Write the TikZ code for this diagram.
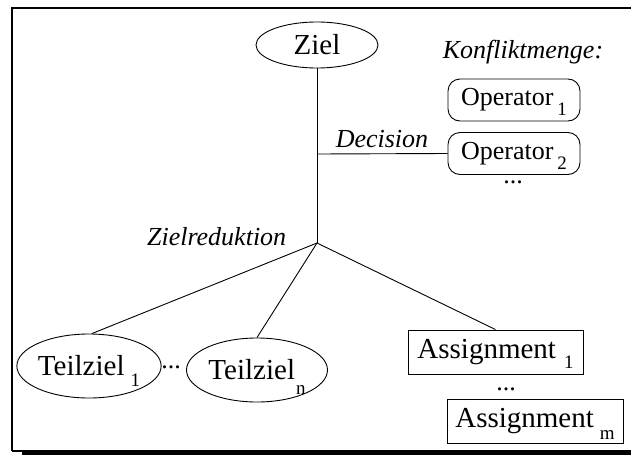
\documentclass[tikz,border=0pt]{standalone}
\usepackage{fontspec}
\setmainfont{Liberation Serif}
\usetikzlibrary{shapes.geometric,calc}
% lowered index after a label: kern, drop, text
\newcommand\lowidx[3]{\kern#1\smash{\raisebox{-#2}{\fontsize{19}{19}\selectfont #3}}}
\begin{document}
\begin{tikzpicture}[x=1pt,y=-1pt,line width=0.9pt,
  big/.style={font=\fontsize{29}{30}\selectfont},
  mid/.style={font=\fontsize{26}{27}\selectfont},
  ital/.style={font=\fontsize{26}{27}\selectfont\itshape},
  goal/.style={draw,ellipse,inner sep=0pt,big},
  opbox/.style={draw,rounded corners=12pt,inner sep=0pt,minimum width=132pt,minimum height=42pt,mid},
  asbox/.style={draw,rectangle,inner sep=0pt,minimum width=176pt,minimum height=44pt,big},
  edge/.style={line width=0.9pt}]
\useasboundingbox (0,0) rectangle (631,455);

% frame with shadowed bottom edge
\draw[line width=2pt] (12,451) -- (12,8) -- (660,8);
\draw[line width=2pt] (12,451) -- (660,451);
\draw[line width=3pt] (22,453.5) -- (660,453.5);

% goal and its decomposition
\node[goal,minimum width=122pt,minimum height=46pt] (ziel) at (317,45) {Ziel};
\coordinate (junc) at (317,243);
\coordinate (dec) at (317,154);

\node[ital,anchor=base] (konf) at (523,58) {Konfliktmenge:};
\node[opbox] (op1) at (514,100) {Operator\lowidx{4pt}{10pt}{1}};
\node[opbox] (op2) at (514,153.5) {Operator\lowidx{4pt}{10pt}{2}};
\node[mid,anchor=base] (opdots) at (513,183) {...};

\node[ital,anchor=base] (declab) at (382,147) {Decision};
\node[ital,anchor=base east] (redlab) at (290,245) {Zielreduktion};

\node[goal,minimum width=142pt,minimum height=64pt] (t1) at (89,366) {Teilziel\lowidx{6pt}{11pt}{1}};
\node[mid,anchor=base] (tdots) at (171,368) {...};
\node[goal,minimum width=141pt,minimum height=64pt] (tn) at (257,370) {Teilziel\lowidx{1pt}{15pt}{n}};

\node[asbox,minimum width=175pt] (a1) at (495.5,352) {Assignment\lowidx{8pt}{10pt}{1}};
\node[mid,anchor=base] (adots) at (506,390) {...};
\node[asbox] (am) at (535,421) {Assignment\lowidx{6pt}{12pt}{m}};

% connectors
\draw[edge] (ziel) -- (junc);
\draw[edge] (dec) -- (op2.west);
\draw[edge] (junc) -- (t1.85);
\draw[edge] (junc) -- (tn.north);
\draw[edge] (junc) -- (a1.north);
\end{tikzpicture}
\end{document}
